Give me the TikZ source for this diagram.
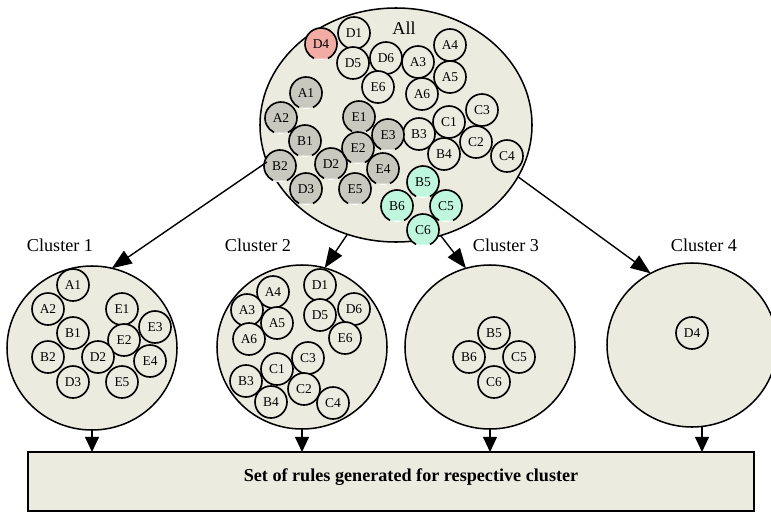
\documentclass[tikz,border=0pt]{standalone}
\usepackage{fontspec}
\setmainfont{Liberation Serif}
\usetikzlibrary{arrows.meta,positioning,shapes.geometric}

\definecolor{paper}{RGB}{236,235,223}
\definecolor{greyball}{RGB}{200,200,190}
\definecolor{pinkball}{RGB}{242,172,164}
\definecolor{mintball}{RGB}{190,246,222}

\begin{document}
\begin{tikzpicture}[x=0.3mm, y=-0.3mm,
    group/.style={draw, ellipse, fill=paper, line width=1.3pt, inner sep=0pt, outer sep=0pt},
    ball/.style={draw, circle, fill=paper, line width=1.4pt, minimum size=9.6mm, inner sep=0pt, outer sep=0pt, font=\fontsize{11.5}{12}\selectfont},
    cutball/.style={ball, draw=none, fill=#1},
    grouplab/.style={font=\fontsize{15.5}{18}\selectfont},
    bigarrow/.style={-{Triangle[length=17pt,width=13pt]}, line width=1.2pt},
    droparrow/.style={-{Triangle[length=13pt,width=12pt]}, line width=1.2pt}
  ]
  \useasboundingbox (0,0) rectangle (771,514);

  % the whole data set
  \node[group, minimum width=81.6mm, minimum height=70.2mm] (all) at (396,125) {};
  \node[grouplab] (alllab) at (404,28) {All};

  \foreach \lab/\x/\y in {D1/354/33, D5/353/63, D6/386/58, E6/378/87, A3/418/62,
      A4/450/45, A5/450/77, A6/422/94, B3/419/134, B4/444/154, C1/449/122,
      C2/476/142, C3/482/110, C4/507/156}
    \node[ball] (u\lab) at (\x,\y) {\lab};
  \foreach \lab/\x/\y in {A1/306/93, A2/281/118, B1/305/141, B2/280/166, D2/331/164,
      D3/306/189, E1/359/117, E2/358/148, E3/388/135, E4/383/169, E5/355/189}
    \node[cutball=greyball] (u\lab) at (\x,\y) {\lab};
  \node[cutball=pinkball] (uD4) at (321,44) {D4};
  \foreach \lab/\x/\y in {B5/423/182, B6/397/206, C5/446/206, C6/423/230}
    \node[cutball=mintball] (u\lab) at (\x,\y) {\lab};

  % outline of the coloured balls, open at the bottom
  \foreach \lab in {A1,A2,B1,B2,D2,D3,E1,E2,E3,E4,E5,D4,B5,B6,C5,C6} {
    \fill[white] (u\lab.-66) arc[start angle=-66, end angle=-114, radius=4.8mm] -- cycle;
    \draw[line width=1.4pt] (u\lab.-64) arc[start angle=-64, end angle=244, radius=4.8mm];
  }

  % clusters
  \node[group, minimum width=51mm, minimum height=49.2mm] (c1) at (92,348) {};
  \node[group, minimum width=51mm, minimum height=49.2mm] (c2) at (302,347) {};
  \node[group, minimum width=51mm, minimum height=49.2mm] (c3) at (490,347) {};
  \node[group, minimum width=51mm, minimum height=49.2mm] (c4) at (692,345) {};

  \node[grouplab] (c1lab) at (60,245) {Cluster 1};
  \node[grouplab] (c2lab) at (258,245) {Cluster 2};
  \node[grouplab] (c3lab) at (506,245) {Cluster 3};
  \node[grouplab] (c4lab) at (704,245) {Cluster 4};

  \foreach \lab/\x/\y in {A1/73/285, A2/48/309, E1/122/309, E3/155/327, B1/73/333,
      E2/124/340, B2/48/357, D2/98/357, E4/150/361, D3/73/382, E5/122/382}
    \node[ball] (k1\lab) at (\x,\y) {\lab};
  \foreach \lab/\x/\y in {D1/320/285, A4/273/292, A3/247/310, D6/354/309, D5/320/315,
      A5/277/323, E6/345/338, A6/249/339, C3/308/358, C1/277/369, B3/246/381,
      C2/304/389, B4/271/402, C4/333/403}
    \node[ball] (k2\lab) at (\x,\y) {\lab};
  \foreach \lab/\x/\y in {B5/494/333, B6/469/357, C5/519/357, C6/494/382}
    \node[ball] (k3\lab) at (\x,\y) {\lab};
  \node[ball] (k4D4) at (692,333) {D4};

  % split of the data set
  \draw[bigarrow] (all.196) -- (c1.76);
  \draw[bigarrow] (all.246) -- (c2.74);
  \draw[bigarrow] (all.292) -- (c3.107);
  \draw[bigarrow] (all.337) -- (c4.120);

  % rule block
  \node[draw, fill=paper, line width=1.4pt, minimum width=217.8mm, minimum height=17.7mm,
    inner sep=0pt, outer sep=0pt] (rules) at (391,481.5) {};
  \node[font=\fontsize{15.5}{18}\selectfont\bfseries] (ruletext) at (411,477)
    {Set of rules generated for respective cluster};

  \draw[droparrow] (c1.south) -- (c1.south |- rules.north);
  \draw[droparrow] (c2.south) -- (c2.south |- rules.north);
  \draw[droparrow] (c3.south) -- (c3.south |- rules.north);
  \draw[droparrow] ([xshift=3mm]c4.south) -- ([xshift=3mm]c4.south |- rules.north);
\end{tikzpicture}
\end{document}
